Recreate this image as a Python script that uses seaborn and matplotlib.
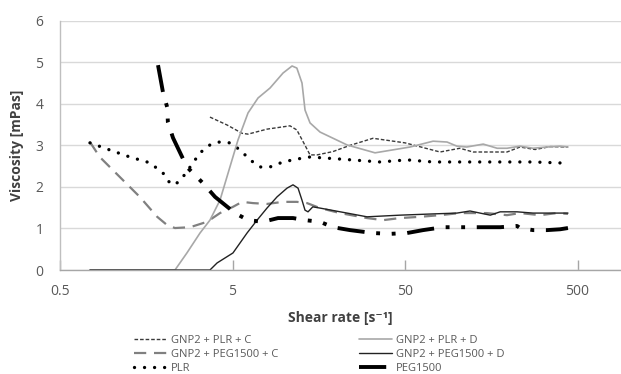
import seaborn as sns
import matplotlib.pyplot as plt
import matplotlib.ticker as mticker

# Values (shear rate in 1/s, viscosity in mPas)

shear_plr_c = [3.70, 4.65, 5.68, 6.15, 7.92, 10.77, 11.8, 13.16, 14.07, 15.45,
               19.1, 24.0, 32.6, 50, 79.8, 104, 124, 195, 232, 284, 347, 440]
visc_plr_c = [3.68, 3.49, 3.29, 3.27, 3.39, 3.47, 3.37, 3.00, 2.77, 2.77,
              2.85, 3.00, 3.17, 3.06, 2.84, 2.93, 2.84, 2.84, 2.96, 2.90, 2.97, 2.96]

shear_plr_d = [0.746, 2.32, 2.72, 3.24, 3.70, 4.23, 4.83, 5.38, 6.15, 7.03, 8.25,
               9.81, 11.07, 11.8, 12.64, 13.16, 14.07, 16.08, 23.06, 33.5, 53.5,
               72.7, 87.6, 100, 114, 142, 171, 195, 232, 276, 333, 396, 440]
visc_plr_d = [0, 0, 0.41, 0.89, 1.20, 1.68, 2.48, 3.13, 3.78, 4.14, 4.38,
              4.74, 4.91, 4.86, 4.50, 3.85, 3.54, 3.32, 3.01, 2.82, 2.96,
              3.10, 3.08, 2.98, 2.96, 3.03, 2.93, 2.93, 2.98, 2.93, 2.96, 2.98, 2.96]

shear_peg_c = [0.746, 0.85, 1.11, 1.45, 1.83, 2.09, 2.32, 2.84, 3.56, 4.23, 5.03,
               5.68, 6.57, 7.92, 9.81, 11.8, 13.52, 16.08, 21.0, 30.1, 37.3, 46.8,
               61.1, 79.8, 104, 124, 149, 195, 232, 303, 380, 440]
visc_peg_c = [3.08, 2.72, 2.24, 1.76, 1.28, 1.08, 1.01, 1.03, 1.16, 1.37, 1.52,
              1.64, 1.61, 1.59, 1.64, 1.64, 1.61, 1.49, 1.37, 1.25, 1.20, 1.25,
              1.28, 1.32, 1.37, 1.37, 1.37, 1.32, 1.37, 1.32, 1.37, 1.35]

shear_peg_d = [0.746, 3.70, 4.07, 5.03, 6.07, 6.94, 7.92, 9.06, 10.35, 11.21, 11.99,
               12.64, 13.16, 13.70, 14.6, 16.08, 23.06, 30.1, 46.8, 72.7, 100, 119,
               136, 156, 178, 223, 276, 360, 440]
visc_peg_d = [0, 0, 0.17, 0.41, 0.89, 1.20, 1.49, 1.76, 1.97, 2.05, 1.97,
              1.68, 1.44, 1.40, 1.52, 1.49, 1.37, 1.28, 1.32, 1.35, 1.37, 1.42,
              1.37, 1.32, 1.40, 1.40, 1.37, 1.37, 1.37]

shear_plr = [0.746, 0.97, 1.27, 1.66, 1.98, 2.17, 2.32, 2.55, 2.84, 3.24, 3.70,
             4.12, 4.83, 5.53, 6.32, 7.22, 8.25, 9.81, 11.8, 14.07, 21.0, 35.8,
             51.4, 72.7, 114, 178, 276, 440]
visc_plr = [3.06, 2.89, 2.72, 2.58, 2.33, 2.09, 2.05, 2.21, 2.48, 2.82, 3.01,
            3.08, 3.06, 2.89, 2.65, 2.48, 2.48, 2.60, 2.67, 2.72, 2.67, 2.60,
            2.65, 2.60, 2.60, 2.60, 2.60, 2.57]

shear_peg = [1.85, 1.98, 2.09, 2.11, 2.26, 2.72, 3.37, 3.96, 5.17, 6.15, 7.51,
             9.18, 11.21, 13.16, 16.08, 19.1, 24.0, 32.6, 40.9, 51.4, 63.6, 83,
             108, 136, 178, 223, 232, 276, 333, 396, 440]
visc_peg = [4.93, 4.26, 3.92, 3.56, 3.18, 2.48, 2.09, 1.76, 1.37, 1.20, 1.16,
            1.25, 1.25, 1.20, 1.16, 1.03, 0.96, 0.89, 0.87, 0.89, 0.96, 1.03,
            1.03, 1.03, 1.03, 1.06, 1.01, 0.96, 0.96, 0.98, 1.01]

x_ticks = [0.5, 5, 50, 500]
x_tick_labels = ["0.5", "5", "50", "500"]
y_ticks = [0, 1, 2, 3, 4, 5, 6]


def draw(ax, x, y, label, **kw):
    sns.lineplot(x=x, y=y, ax=ax, label=label, sort=False, estimator=None, **kw)


def main():
    sns.set_style("whitegrid")
    plt.rcParams["font.family"] = ["Open Sans", "DejaVu Sans"]
    text_col = "#595959"

    fig = plt.figure(figsize=(6.21, 3.74), dpi=100)
    ax = fig.add_axes([60 / 621, 104 / 374, 561 / 621, 249.3 / 374])

    draw(ax, shear_plr_c, visc_plr_c, "GNP2 + PLR + C",
         color="#3a3a3a", lw=1.0, linestyle=(0, (2.6, 1.4)))
    draw(ax, shear_peg_c, visc_peg_c, "GNP2 + PEG1500 + C",
         color="#808080", lw=1.6, linestyle=(0, (5.5, 3.5)))
    draw(ax, shear_plr, visc_plr, "PLR",
         color="black", lw=2.4, linestyle=(0, (0.01, 3.0)), dash_capstyle="round")
    draw(ax, shear_plr_d, visc_plr_d, "GNP2 + PLR + D",
         color="#a8a8a8", lw=1.2)
    draw(ax, shear_peg_d, visc_peg_d, "GNP2 + PEG1500 + D",
         color="#222222", lw=1.0)
    draw(ax, shear_peg, visc_peg, "PEG1500",
         color="black", lw=2.8, linestyle=(0, (7, 3, 1, 3, 1, 3)))

    ax.set_xscale("log")
    ax.set_xlim(0.5, 893)
    ax.set_ylim(0, 6)
    ax.xaxis.set_major_locator(mticker.FixedLocator(x_ticks))
    ax.xaxis.set_minor_locator(mticker.NullLocator())
    ax.set_xticklabels(x_tick_labels)
    ax.set_yticks(y_ticks)

    ax.grid(axis="x", visible=False)
    ax.grid(axis="y", color="#d9d9d9", lw=1.0)
    for side in ["top", "right"]:
        ax.spines[side].set_visible(False)
    ax.spines["left"].set_color("#bfbfbf")
    ax.spines["bottom"].set_color("#a6a6a6")
    ax.spines["left"].set_linewidth(1.0)
    ax.spines["bottom"].set_linewidth(1.0)

    ax.tick_params(axis="x", direction="in", length=7, width=1.0, color="#a6a6a6",
                   pad=10, labelsize=10, labelcolor=text_col, bottom=True)
    ax.tick_params(axis="y", length=0, pad=12, labelsize=10, labelcolor=text_col)

    ax.set_xlabel("Shear rate [s⁻¹]", fontsize=10, fontweight="bold",
                  color="#404040", labelpad=9)
    ax.set_ylabel("Viscosity [mPas]", fontsize=10, fontweight="bold",
                  color="#404040", labelpad=8)

    ax.get_legend().remove()
    handles, labels = ax.get_legend_handles_labels()
    fig.legend(handles, labels, ncol=2, loc="upper left",
               bbox_to_anchor=(134 / 621, 1 - 335 / 374), frameon=False,
               fontsize=8, labelcolor=text_col, handlelength=3.0,
               handletextpad=0.3, columnspacing=7.3, labelspacing=0.28,
               borderpad=0, borderaxespad=0)

    fig.savefig("out.png", dpi=100)


if __name__ == "__main__":
    main()
